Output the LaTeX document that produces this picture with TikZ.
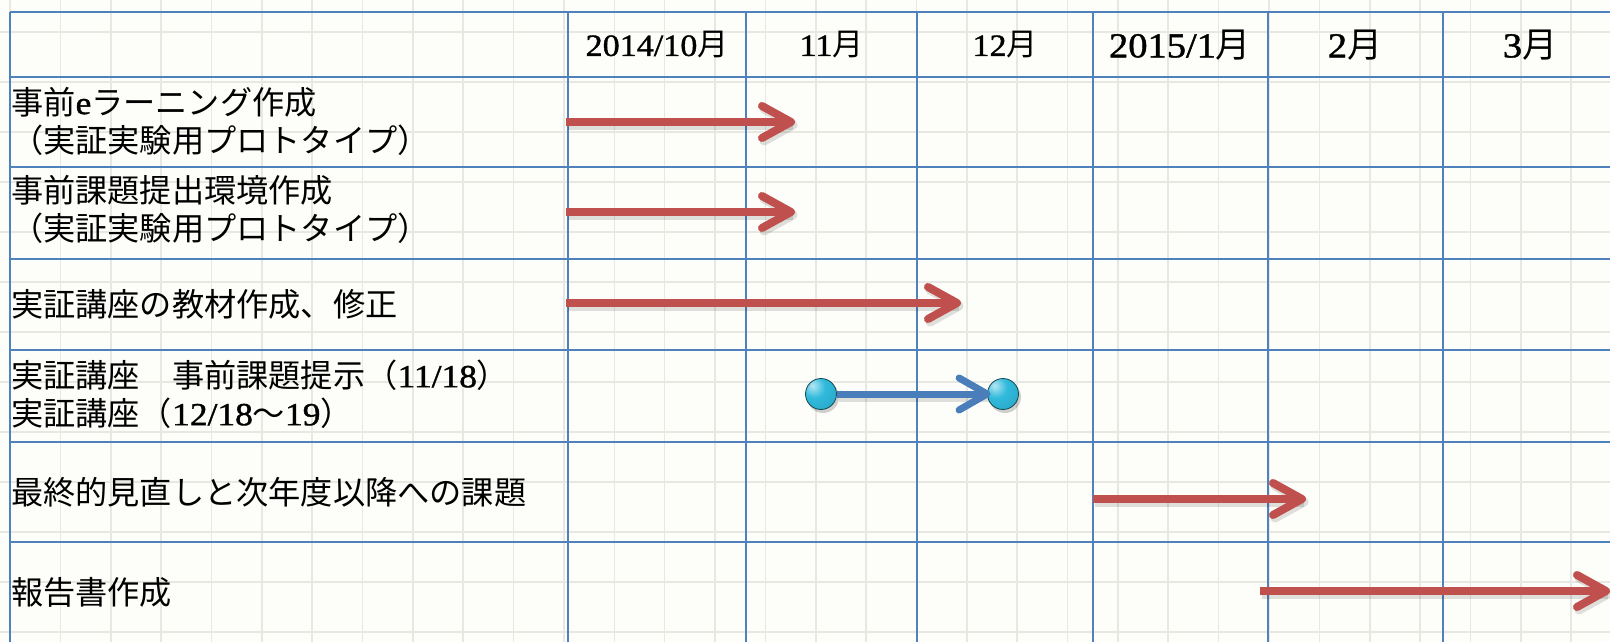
\documentclass[tikz,border=0pt]{standalone}
\usepackage{fontspec}
\setmainfont{Liberation Serif}[FakeStretch=1.1,FakeBold=1.2]
\newfontfamily\jpfont{Noto Sans CJK JP}
\usetikzlibrary{calc}
\definecolor{tableblue}{RGB}{79,129,189}
\definecolor{barred}{RGB}{192,80,77}
\definecolor{barblue}{RGB}{74,126,187}
\definecolor{paper}{RGB}{253,253,249}
\definecolor{paperline}{RGB}{232,232,226}
\definecolor{ballcol}{RGB}{48,186,220}
\pgfdeclareradialshading{cyanball}{\pgfpoint{-14bp}{14bp}}{%
  color(0bp)=(ballcol!35!white);
  color(18bp)=(ballcol);
  color(52bp)=(ballcol!85!black);
  color(64bp)=(ballcol!45!black);
  color(100bp)=(ballcol!45!black)}
\newcommand{\J}[1]{{\jpfont #1}}
\newcommand{\garrow}[3]{%
  \draw[shadowline] ([shift={(2,3)}]#1) -- ([shift={(2,3)}]#2);
  \draw[shadowline, line cap=round, line join=round] ([shift={(-27,-13)}]#2) -- ([shift={(2,3)}]#2) -- ([shift={(-27,19)}]#2);
  \draw[draw=#3, line width=8pt, shorten >=3pt] (#1) -- (#2);
  \draw[draw=#3, chev] ([shift={(-29,-16)}]#2) -- (#2) -- ([shift={(-29,16)}]#2);
}
\begin{document}
\begin{tikzpicture}[x=1pt,y=-1pt,
  tline/.style={draw=tableblue, line width=2.8pt},
  chev/.style={line width=8pt, line cap=round, line join=round},
  shadowline/.style={draw=black, opacity=0.12, line width=9pt},
  rowlab/.style={anchor=west, inner sep=0pt, align=left, font=\fontsize{32.2}{38}\selectfont},
  monthhead/.style={inner sep=0pt, font=\fontsize{31}{36}\selectfont},
  monthbig/.style={inner sep=0pt, font=\fontsize{35}{40}\selectfont},
  sphere/.style={circle, minimum size=31pt, inner sep=0pt, shading=cyanball, draw=ballcol!40!black, line width=0.8pt},
]
\useasboundingbox (0,0) rectangle (1610,642);
\fill[paper] (0,0) rectangle (1610,642);
\begin{scope}
\clip (0,0) rectangle (1610,642);
\foreach \k in {0,...,32} \draw[paperline, line width=1.6pt] ({10+50.36*\k},0) -- ({10+50.36*\k},642);
\foreach \k in {0,...,13} \draw[paperline, line width=1.6pt] (0,{-18+50*\k}) -- (1610,{-18+50*\k});
% table
\foreach \x in {10,568,746,917,1093,1268,1443} \draw[tline] (\x,12) -- (\x,642);
\foreach \y in {12,77,167,259,350,442,542} \draw[tline] (10,\y) -- (1610,\y);
\end{scope}
% headers
\node[monthhead] (h1) at (657,45) {2014/10\J{月}};
\node[monthhead] (h2) at (831.5,45) {11\J{月}};
\node[monthhead] (h3) at (1005,45) {12\J{月}};
\node[monthbig] (h4) at (1180,45) {2015/1\J{月}};
\node[monthbig] (h5) at (1355,45) {2\J{月}};
\node[monthbig] (h6) at (1530,45) {3\J{月}};
% row labels
\node[rowlab] (l1) at (11,121) {\J{事前}e\J{ラーニング作成}\\\J{（実証実験用プロトタイプ）}};
\node[rowlab] (l2) at (11,209) {\J{事前課題提出環境作成}\\\J{（実証実験用プロトタイプ）}};
\node[rowlab] (l3) at (11,304) {\J{実証講座の教材作成、修正}};
\node[rowlab] (l4) at (11,394) {\J{実証講座　事前課題提示（}11/18\J{）}\\\J{実証講座（}12/18\J{～}19\J{）}};
\node[rowlab] (l5) at (11,492) {\J{最終的見直しと次年度以降への課題}};
\node[rowlab] (l6) at (11,592) {\J{報告書作成}};
% bar coordinates
\coordinate (r1s) at (566,122); \coordinate (r1e) at (791,122);
\coordinate (r2s) at (566,212); \coordinate (r2e) at (791,212);
\coordinate (r3s) at (566,303); \coordinate (r3e) at (957,303);
\coordinate (r5s) at (1093,499); \coordinate (r5e) at (1302,499);
\coordinate (r6s) at (1260,591); \coordinate (r6e) at (1606,591);
\garrow{r1s}{r1e}{barred}
\garrow{r2s}{r2e}{barred}
\garrow{r3s}{r3e}{barred}
\garrow{r5s}{r5e}{barred}
\garrow{r6s}{r6e}{barred}
% milestones
\coordinate (p1) at (821,394);
\coordinate (p2) at (1003,394);
\fill[black, opacity=0.18] ([shift={(2,3)}]p1) circle (16);
\fill[black, opacity=0.18] ([shift={(2,3)}]p2) circle (16);
\node[sphere] (c1) at (p1) {};
\node[sphere] (c2) at (p2) {};
\draw[shadowline] ([shift={(2,3)}]c1.east) -- ([shift={(2,3)}]c2.west);
\draw[draw=barblue, line width=7pt, shorten >=3pt] (c1.east) -- (c2.west);
\draw[draw=barblue, line width=7pt, line cap=round, line join=round] ([shift={(-28,-16)}]c2.west) -- (c2.west) -- ([shift={(-28,16)}]c2.west);
\end{tikzpicture}
\end{document}
